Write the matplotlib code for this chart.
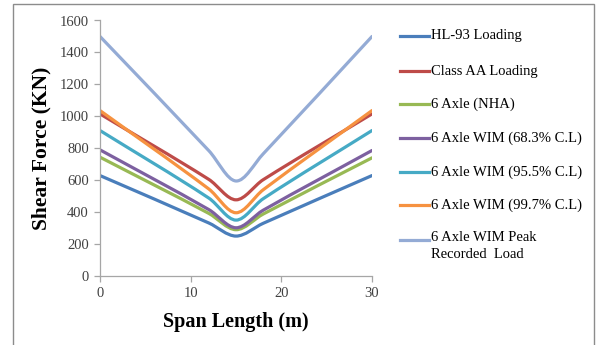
import matplotlib
matplotlib.use("Agg")
import matplotlib.pyplot as plt
from matplotlib.path import Path
from matplotlib.patches import PathPatch, Rectangle
from matplotlib.lines import Line2D

# ---- data ----
span = [0, 12, 15, 18, 30]
hl93 = [629, 332, 250, 330, 629]
class_aa = [1015, 605, 477, 603, 1015]
axle6_nha = [744, 392, 290, 388, 740]
wim_683 = [790, 416, 302, 412, 786]
wim_955 = [911, 488, 350, 484, 911]
wim_997 = [1036, 545, 396, 540, 1036]
wim_peak = [1500, 785, 595, 765, 1500]

series = [
    ("HL-93 Loading", hl93, "#4A7EBB"),
    ("Class AA Loading", class_aa, "#BE4B48"),
    ("6 Axle (NHA)", axle6_nha, "#98B954"),
    ("6 Axle WIM (68.3% C.L)", wim_683, "#7D60A0"),
    ("6 Axle WIM (95.5% C.L)", wim_955, "#46AAC5"),
    ("6 Axle WIM (99.7% C.L)", wim_997, "#F69240"),
    ("6 Axle WIM Peak\nRecorded  Load", wim_peak, "#94ABD5"),
]

x_ticks = [0, 10, 20, 30]
y_ticks = [0, 200, 400, 600, 800, 1000, 1200, 1400, 1600]

SERIF = ["Liberation Serif", "DejaVu Serif"]
W, H = 597, 345
fig = plt.figure(figsize=(W / 100, H / 100), dpi=100)
ax = fig.add_axes([100 / W, 1 - 276 / H, 272 / W, 255.5 / H])


def smooth_path(xs, ys):
    # cubic Hermite (Excel-like smoothed line) rendered as Bezier segments
    n = len(xs)
    m = []
    for i in range(n):
        if i == 0:
            m.append((ys[1] - ys[0]) / (xs[1] - xs[0]))
        elif i == n - 1:
            m.append((ys[-1] - ys[-2]) / (xs[-1] - xs[-2]))
        else:
            m.append((ys[i + 1] - ys[i - 1]) / (xs[i + 1] - xs[i - 1]))
    verts = [(xs[0], ys[0])]
    codes = [Path.MOVETO]
    for i in range(n - 1):
        h = xs[i + 1] - xs[i]
        verts += [(xs[i] + h / 3, ys[i] + m[i] * h / 3),
                  (xs[i + 1] - h / 3, ys[i + 1] - m[i + 1] * h / 3),
                  (xs[i + 1], ys[i + 1])]
        codes += [Path.CURVE4] * 3
    return Path(verts, codes)


for label, vals, color in series:
    ax.add_patch(PathPatch(smooth_path(span, vals), fill=False, edgecolor=color,
                           lw=2.3, capstyle="round", joinstyle="round"))

ax.set_xlim(0, 30)
ax.set_ylim(0, 1600)
ax.set_xticks(x_ticks)
ax.set_yticks(y_ticks)
for s in ["top", "right"]:
    ax.spines[s].set_visible(False)
for s in ["left", "bottom"]:
    ax.spines[s].set_color("#A6A6A6")
    ax.spines[s].set_linewidth(0.9)
ax.tick_params(axis="both", direction="out", length=4, width=0.9, color="#A6A6A6",
               labelsize=10.5, labelcolor="#404040", pad=4)
for t in ax.get_xticklabels() + ax.get_yticklabels():
    t.set_fontfamily(SERIF)
ax.set_xlabel("Span Length (m)", fontfamily=SERIF, fontweight="bold", fontsize=14.5)
ax.set_ylabel("Shear Force (KN)", fontfamily=SERIF, fontweight="bold", fontsize=15.5)
ax.xaxis.set_label_coords(0.5, -0.14)
ax.yaxis.set_label_coords(-0.18, 0.5)

# legend drawn manually to mimic Excel layout
ys_leg = [36, 71, 104, 138, 172, 205, 240]
for (label, vals, color), yp in zip(series, ys_leg):
    yf = 1 - yp / H
    fig.add_artist(Line2D([400 / W, 429 / W], [yf, yf], color=color, lw=2.3,
                          transform=fig.transFigure))
    if "\n" in label:
        fig.text(431 / W, yf + 9 / H, label, fontfamily=SERIF, fontsize=10.5,
                 color="#000000", va="top", linespacing=1.35)
    else:
        fig.text(431 / W, yf, label, fontfamily=SERIF, fontsize=10.5,
                 color="#000000", va="center")

# chart-area border
fig.add_artist(Rectangle((12.5 / W, -0.05), (594 - 12.5) / W, 1.05 - 4.5 / H,
                         fill=False, edgecolor="#8C8C8C", lw=1.0,
                         transform=fig.transFigure))

fig.savefig("out.png", dpi=100)
